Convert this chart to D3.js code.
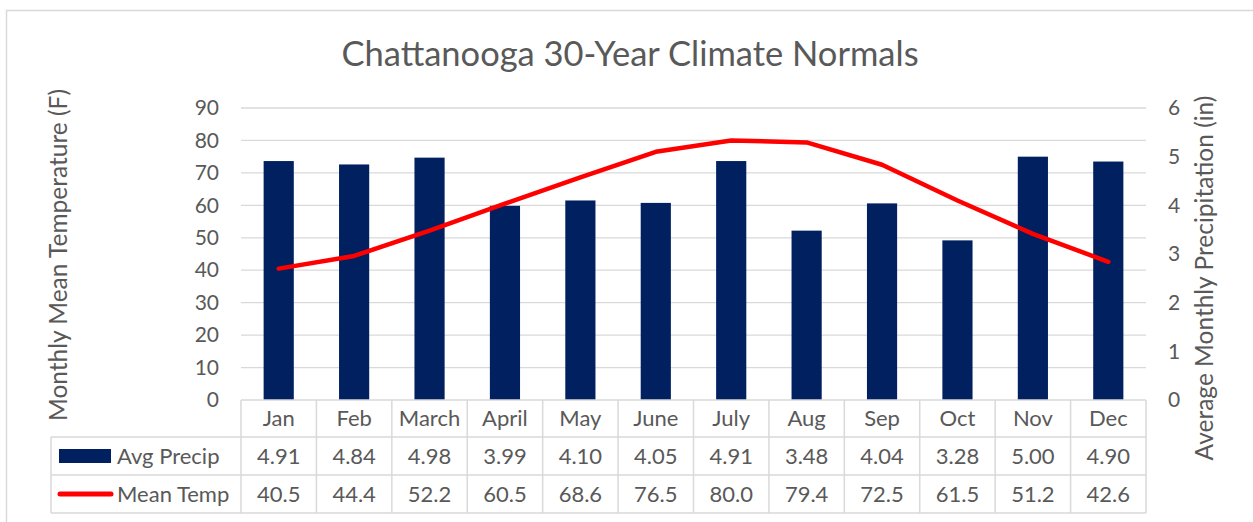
<!DOCTYPE html>
<html>
<head>
<meta charset="utf-8">
<script src="https://cdn.jsdelivr.net/npm/d3@7"></script>
<style>
  body { margin: 0; background: #fff; }
  text { font-family: Lato, "Open Sans", sans-serif; fill: #595959; }
</style>
</head>
<body>
<svg id="chart" width="1253" height="522"></svg>
<script>
// ----------------------------
// Data
// ----------------------------
const months = ["Jan","Feb","March","April","May","June","July","Aug","Sep","Oct","Nov","Dec"];
const precip = [4.91, 4.84, 4.98, 3.99, 4.10, 4.05, 4.91, 3.48, 4.04, 3.28, 5.00, 4.90];
const temp   = [40.5, 44.4, 52.2, 60.5, 68.6, 76.5, 80.0, 79.4, 72.5, 61.5, 51.2, 42.6];
const tempTicks   = [0,10,20,30,40,50,60,70,80,90];
const precipTicks = [0,1,2,3,4,5,6];

const navy = "#002060";
const red = "#ff0000";
const grid = "#d9d9d9";

// ----------------------------
// Layout
// ----------------------------
const svg = d3.select("#chart");
const plot = { left: 241, right: 1146, top: 108, bottom: 400 };
const rowH = [37, 38, 38];
const tableLeft = 51;

const x = d3.scaleBand().domain(months).range([plot.left, plot.right]).padding(0);
const yT = d3.scaleLinear().domain([0, 90]).range([plot.bottom, plot.top]);
const yP = d3.scaleLinear().domain([0, 6]).range([plot.bottom, plot.top]);

// outer frame
svg.append("rect")
  .attr("x", 6.5).attr("y", 10.5)
  .attr("width", 1400).attr("height", 700)
  .attr("fill", "none").attr("stroke", grid).attr("stroke-width", 1.5);

// title
svg.append("text")
  .attr("x", 630).attr("y", 66)
  .attr("text-anchor", "middle")
  .style("font-size", "34.5px")
  .text("Chattanooga 30-Year Climate Normals");

// gridlines
svg.append("g").selectAll("line")
  .data(tempTicks.filter(d => d > 0))
  .join("line")
  .attr("x1", plot.left).attr("x2", plot.right)
  .attr("y1", d => yT(d)).attr("y2", d => yT(d))
  .attr("stroke", grid).attr("stroke-width", 1.3);

// left axis
const leftAxis = svg.append("g")
  .attr("transform", `translate(${plot.left - 22},0)`)
  .call(d3.axisLeft(yT).tickValues(tempTicks).tickSize(0).tickPadding(0));
leftAxis.select(".domain").remove();
leftAxis.selectAll("text").style("font-size", "21px").attr("fill", "#595959");

// right axis
const rightAxis = svg.append("g")
  .attr("transform", `translate(${plot.right + 22},0)`)
  .call(d3.axisRight(yP).tickValues(precipTicks).tickFormat(d3.format("d")).tickSize(0).tickPadding(0));
rightAxis.select(".domain").remove();
rightAxis.selectAll("text").style("font-size", "21px").attr("fill", "#595959");

// axis titles
svg.append("text")
  .attr("transform", `translate(67,255) rotate(-90)`)
  .attr("text-anchor", "middle")
  .style("font-size", "24.5px")
  .text("Monthly Mean Temperature (F)");

svg.append("text")
  .attr("transform", `translate(1213,278) rotate(-90)`)
  .attr("text-anchor", "middle")
  .style("font-size", "24.5px")
  .text("Average Monthly Precipitation (in)");

// bars
const barW = x.bandwidth() * 0.4;
svg.append("g").selectAll("rect")
  .data(months)
  .join("rect")
  .attr("x", d => x(d) + (x.bandwidth() - barW) / 2)
  .attr("width", barW)
  .attr("y", (d, i) => yP(precip[i]))
  .attr("height", (d, i) => yP(0) - yP(precip[i]))
  .attr("fill", navy);

// line
svg.append("path")
  .datum(temp)
  .attr("fill", "none")
  .attr("stroke", red)
  .attr("stroke-width", 4.5)
  .attr("stroke-linejoin", "round")
  .attr("stroke-linecap", "round")
  .attr("d", d3.line()
    .x((d, i) => x(months[i]) + x.bandwidth() / 2)
    .y(d => yT(d)));

// ----------------------------
// Data table
// ----------------------------
const rowTop = [plot.bottom, plot.bottom + rowH[0], plot.bottom + rowH[0] + rowH[1]];
const tableBottom = rowTop[2] + rowH[2];
const tg = svg.append("g");

// horizontal borders
tg.append("line").attr("x1", plot.left).attr("x2", plot.right)
  .attr("y1", rowTop[0]).attr("y2", rowTop[0]);
[rowTop[1], rowTop[2], tableBottom].forEach(yy => {
  tg.append("line").attr("x1", tableLeft).attr("x2", plot.right)
    .attr("y1", yy).attr("y2", yy);
});
// vertical borders
tg.append("line").attr("x1", tableLeft).attr("x2", tableLeft)
  .attr("y1", rowTop[1]).attr("y2", tableBottom);
months.forEach(m => {
  tg.append("line").attr("x1", x(m)).attr("x2", x(m))
    .attr("y1", rowTop[0]).attr("y2", tableBottom);
});
tg.append("line").attr("x1", plot.right).attr("x2", plot.right)
  .attr("y1", rowTop[0]).attr("y2", tableBottom);
tg.selectAll("line").attr("stroke", grid).attr("stroke-width", 1.5);

const cellText = (row, vals) => tg.append("g").selectAll("text")
  .data(vals)
  .join("text")
  .attr("x", (d, i) => x(months[i]) + x.bandwidth() / 2)
  .attr("y", rowTop[row] + rowH[row] / 2)
  .attr("dy", "0.36em")
  .attr("text-anchor", "middle")
  .style("font-size", "22px")
  .text(d => d);

cellText(0, months);
cellText(1, precip.map(d => d.toFixed(2)));
cellText(2, temp.map(d => d.toFixed(1)));

// legend keys
tg.append("rect")
  .attr("x", 59).attr("y", rowTop[1] + 12)
  .attr("width", 52).attr("height", 14)
  .attr("fill", navy);
tg.append("line")
  .attr("x1", 60).attr("x2", 111)
  .attr("y1", rowTop[2] + 19).attr("y2", rowTop[2] + 19)
  .attr("stroke", red).attr("stroke-width", 5).attr("stroke-linecap", "round");

tg.append("text").attr("x", 117).attr("y", rowTop[1] + rowH[1] / 2).attr("dy", "0.36em")
  .style("font-size", "22px").text("Avg Precip");
tg.append("text").attr("x", 117).attr("y", rowTop[2] + rowH[2] / 2).attr("dy", "0.36em")
  .style("font-size", "22px").text("Mean Temp");
</script>
</body>
</html>
